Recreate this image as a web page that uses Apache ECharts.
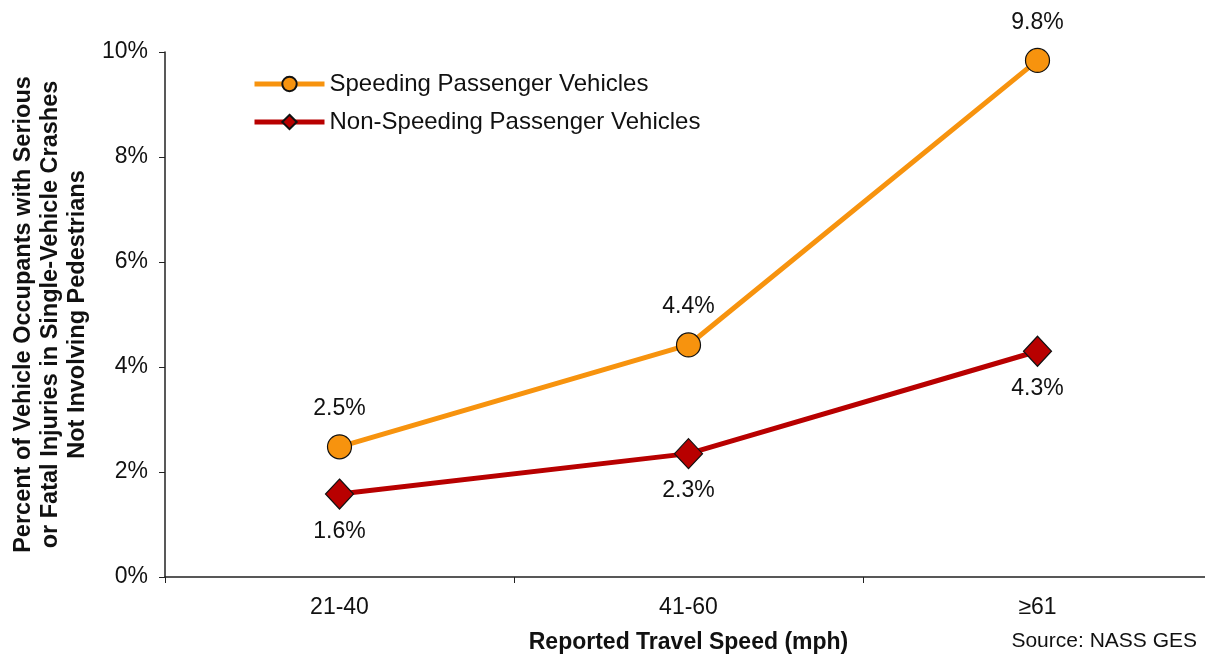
<!DOCTYPE html>
<html>
<head>
<meta charset="utf-8">
<script src="https://cdn.jsdelivr.net/npm/echarts@6/dist/echarts.min.js"></script>
<style>html,body{margin:0;padding:0;background:#fff}#c{width:1205px;height:654px}</style>
</head>
<body>
<div id="c"></div>
<script>
const categories = ['21-40', '41-60', '\u226561'];
const speeding = [2.48, 4.42, 9.84];
const nonSpeeding = [1.58, 2.35, 4.3];
const speedingLabels = ['2.5%', '4.4%', '9.8%'];
const nonSpeedingLabels = ['1.6%', '2.3%', '4.3%'];
const yTicks = [0, 2, 4, 6, 8, 10];

const font = 'Liberation Sans, Arial, sans-serif';
const chart = echarts.init(document.getElementById('c'));
chart.setOption({
  animation: false,
  backgroundColor: '#fff',
  grid: { left: 165, right: -7, top: 52, bottom: 77, containLabel: false, outerBoundsMode: 'none' },
  legend: {
    orient: 'vertical',
    left: 252, top: 72, padding: 0,
    itemWidth: 70, itemHeight: 18, itemGap: 14,
    lineStyle: { width: 5 },
    textStyle: { fontFamily: font, fontSize: 24, color: '#111', padding: [0, 0, 0, 0] },
    data: ['Speeding Passenger Vehicles', 'Non-Speeding Passenger Vehicles']
  },
  xAxis: {
    type: 'category',
    data: categories,
    boundaryGap: true,
    axisLine: { lineStyle: { color: '#222', width: 1.5 } },
    axisTick: { show: true, length: 6, lineStyle: { color: '#222' } },
    axisLabel: { fontFamily: font, fontSize: 23, color: '#111', margin: 19 },
    name: 'Reported Travel Speed (mph)',
    nameLocation: 'middle',
    nameGap: 54,
    nameTextStyle: { fontFamily: font, fontSize: 23, fontWeight: 'bold', color: '#111' }
  },
  yAxis: {
    type: 'value',
    min: 0, max: 10, interval: 2,
    splitLine: { show: false },
    axisLine: { show: true, lineStyle: { color: '#222', width: 1.5 } },
    axisTick: { show: true, length: 6, lineStyle: { color: '#222' } },
    axisLabel: { fontFamily: font, fontSize: 23, color: '#111', margin: 17,
      formatter: v => yTicks.includes(v) ? v + '%' : '' },
    name: 'Percent of Vehicle Occupants with Serious\nor Fatal Injuries in Single-Vehicle Crashes\nNot Involving Pedestrians',
    nameLocation: 'middle',
    nameGap: 74,
    nameRotate: 90,
    nameTextStyle: { fontFamily: font, fontSize: 23.5, fontWeight: 'bold', color: '#111', lineHeight: 27, align: 'center' }
  },
  series: [
    {
      name: 'Speeding Passenger Vehicles',
      type: 'line',
      data: speeding,
      symbol: 'circle',
      symbolSize: 24,
      lineStyle: { color: '#F7930E', width: 5 },
      itemStyle: { color: '#F7930E', borderColor: '#111', borderWidth: 1.2 },
      label: {
        show: true, position: 'top', distance: 14,
        fontFamily: font, fontSize: 23, color: '#111',
        formatter: p => speedingLabels[p.dataIndex]
      },
      z: 3
    },
    {
      name: 'Non-Speeding Passenger Vehicles',
      type: 'line',
      data: nonSpeeding,
      symbol: 'diamond',
      symbolSize: [28, 30],
      lineStyle: { color: '#B80000', width: 5 },
      itemStyle: { color: '#B80000', borderColor: '#111', borderWidth: 1.2 },
      label: {
        show: true, position: 'bottom', distance: 10,
        fontFamily: font, fontSize: 23, color: '#111',
        formatter: p => nonSpeedingLabels[p.dataIndex]
      },
      z: 2
    }
  ],
  graphic: [
    { type: 'text', right: 8, top: 631,
      style: { text: 'Source: NASS GES', font: '21px ' + font, fill: '#111' } }
  ]
});
</script>
</body>
</html>
